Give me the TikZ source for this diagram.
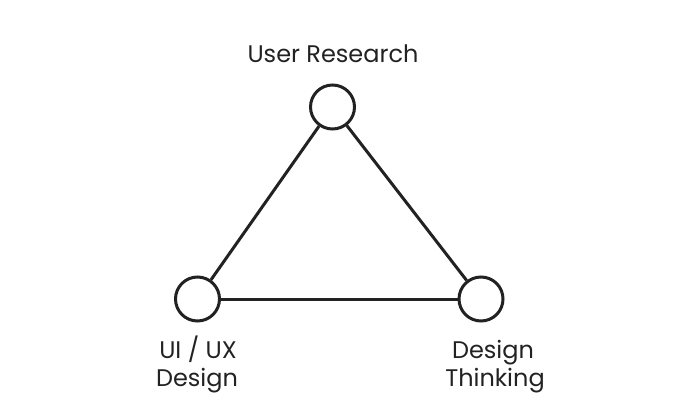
\documentclass[tikz,border=0pt]{standalone}
\usepackage{fontspec}
\setmainfont{Poppins}
\definecolor{ink}{HTML}{222222}
\begin{document}
\begin{tikzpicture}[x=1pt,y=-1pt,
  hub/.style={circle,draw=ink,line width=3pt,fill=white,minimum size=44pt,inner sep=0pt},
  edge/.style={draw=ink,line width=3pt},
  lbl/.style={text=ink,font=\fontsize{24}{28}\selectfont,inner sep=0pt,align=center}]
\useasboundingbox (0,0) rectangle (700,395);
\fill[white] (0,0) rectangle (700,395);
\node[hub] (top) at (332.5,107) {};
\node[hub] (bl) at (197.5,299) {};
\node[hub] (br) at (481,299) {};
\draw[edge] (top) -- (bl);
\draw[edge] (bl) -- (br);
\draw[edge] (br) -- (top);
\node[lbl,anchor=base] (t1) at (333,63) {User Research};
\node[lbl,anchor=base] (l1) at (198,358) {UI / UX};
\node[lbl,anchor=base] (l2) at (197,386) {Design};
\node[lbl,anchor=base] (r1) at (493,358) {Design};
\node[lbl,anchor=base] (r2) at (495,386) {Thinking};
\end{tikzpicture}
\end{document}
